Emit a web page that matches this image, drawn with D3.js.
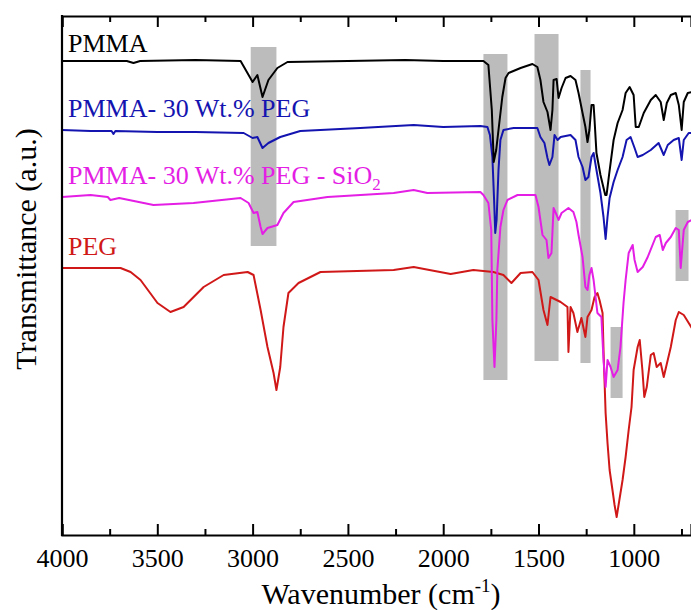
<!DOCTYPE html>
<html>
<head>
<meta charset="utf-8">
<script src="https://cdn.jsdelivr.net/npm/d3@7"></script>
<style>
  body { margin: 0; background: #fff; }
  svg text { font-family: "Liberation Serif", "Times New Roman", serif; }
</style>
</head>
<body>
<script>
// FTIR spectra, [wavenumber (cm-1), transmittance (a.u., offset)]
const pmma = [
  [4000,474],[3800,474],[3660,474],[3625,472],[3590,474],[3300,475],[3063,474],[3027,462],
  [3000,453],[2975,460],[2948,438],[2917,455],[2870,467],[2817,473],[2500,474],[2200,475],
  [2000,474],[1789,474],[1763,470],[1745,425],[1735,373],[1722,385],[1710,405],[1690,438],
  [1673,457],[1657,462],[1594,467],[1532,471],[1506,468],[1490,455],[1474,433],[1453,423],
  [1437,405],[1427,425],[1421,455],[1405,456],[1395,437],[1379,447],[1358,457],[1332,459],
  [1306,455],[1290,442],[1269,422],[1254,408],[1243,393],[1233,405],[1222,430],[1211,430],
  [1206,415],[1196,382],[1175,360],[1150,340],[1143,340],[1130,360],[1106,395],[1085,412],
  [1059,425],[1043,442],[1022,448],[1001,440],[990,408],[974,408],[948,422],[911,435],
  [885,440],[859,433],[843,415],[827,432],[806,440],[780,442],[764,430],[749,405],
  [738,433],[717,442],[696,443]
];
const pmmaPeg = [
  [4000,405],[3850,404],[3740,404],[3730,401],[3720,404],[3500,403],[3300,403],[3047,402],
  [3000,397],[2975,398],[2948,387],[2917,392],[2855,398],[2750,404],[2435,407],[2155,410],
  [2000,408],[1805,409],[1768,408],[1755,400],[1742,378],[1733,335],[1727,302],[1720,315],
  [1710,365],[1700,395],[1684,405],[1631,407],[1506,407],[1490,398],[1469,392],[1453,377],
  [1443,370],[1427,378],[1416,400],[1400,395],[1384,398],[1332,400],[1306,395],[1290,378],
  [1269,368],[1254,355],[1238,358],[1222,378],[1211,382],[1196,365],[1175,342],[1159,318],
  [1148,296],[1138,318],[1127,337],[1106,353],[1085,365],[1059,378],[1038,395],[1017,398],
  [996,387],[980,378],[953,380],[911,385],[870,392],[843,380],[822,390],[791,395],
  [764,397],[749,375],[738,395],[712,402],[696,402]
];
const pmmaPegSiO2 = [
  [4000,338],[3850,340],[3760,338],[3746,335],[3700,337],[3520,330],[3310,332],[3063,337],
  [3021,332],[2995,322],[2975,323],[2958,308],[2948,301],[2922,307],[2870,310],[2838,322],
  [2785,333],[2607,338],[2260,342],[2155,345],[2083,342],[1805,343],[1789,340],[1763,332],
  [1748,305],[1742,215],[1731,168],[1721,215],[1716,265],[1700,308],[1684,325],[1663,335],
  [1610,340],[1516,340],[1500,328],[1479,300],[1458,295],[1448,277],[1432,282],[1421,327],
  [1405,320],[1395,315],[1379,322],[1343,327],[1317,323],[1301,313],[1290,300],[1269,278],
  [1254,248],[1243,245],[1233,260],[1222,267],[1211,255],[1191,222],[1170,218],[1159,175],
  [1148,148],[1138,175],[1122,168],[1106,158],[1085,165],[1070,188],[1054,232],[1043,255],
  [1027,282],[1006,290],[996,275],[980,263],[953,268],[927,278],[885,298],[864,300],
  [848,285],[832,292],[806,298],[780,307],[764,305],[754,267],[738,305],[717,313],[696,315]
];
const peg = [
  [4000,267],[3693,267],[3640,263],[3588,255],[3499,232],[3431,223],[3362,228],[3257,248],
  [3152,260],[3026,263],[2995,260],[2958,225],[2922,188],[2890,162],[2875,145],[2855,168],
  [2838,208],[2812,242],[2759,252],[2644,263],[2260,265],[2155,268],[2100,266],[1961,261],
  [1842,265],[1737,263],[1684,260],[1642,252],[1594,262],[1532,263],[1500,255],[1474,225],
  [1453,210],[1437,238],[1384,233],[1348,228],[1343,183],[1332,228],[1317,222],[1296,203],
  [1275,217],[1254,198],[1243,218],[1222,225],[1206,238],[1191,242],[1180,235],[1164,222],
  [1159,185],[1148,122],[1138,92],[1127,65],[1112,45],[1101,30],[1090,18],[1080,30],
  [1059,55],[1043,78],[1027,105],[1012,128],[1001,165],[980,188],[969,195],[955,165],
  [945,138],[932,148],[911,180],[896,182],[880,168],[859,172],[843,158],[806,188],
  [780,215],[764,223],[738,220],[712,212],[696,207]
];

const seriesNames = ["PEG", "PMMA- 30 Wt.% PEG - SiO", "PMMA- 30 Wt.% PEG", "PMMA"];
const seriesColors = ["#d01818", "#e41ee4", "#1414b0", "#000000"];
const labelAnchors = [[4000, 280], [4000, 351], [4000, 418], [4000, 483]];

// shaded bands: [wn from, wn to, T low, T high]
const bands = [
  [3010, 2875, 289, 488],
  [1789, 1663, 155, 481],
  [1521, 1395, 174, 501],
  [1280, 1227, 172, 465],
  [1122, 1059, 137, 208],
  [781, 713, 254, 325]
];

const majorTicks = [4000, 3500, 3000, 2500, 2000, 1500, 1000];
const minorTicks = [3750, 3250, 2750, 2250, 1750, 1250, 750];

const W = 691, H = 610;
const mLeft = 62, mRight = 691, mTop = 16, mBottom = 535;

const svg = d3.select("body").append("svg")
  .attr("width", W).attr("height", H);

const x = d3.scaleLinear().domain([4000, 700]).range([mLeft, mRight]);
const y = d3.scaleLinear().domain([0, 519]).range([mBottom, mTop]);

svg.append("defs").append("clipPath").attr("id", "plot")
  .append("rect").attr("x", mLeft).attr("y", mTop)
  .attr("width", mRight - mLeft).attr("height", mBottom - mTop);

const g = svg.append("g").attr("clip-path", "url(#plot)");

g.selectAll("rect.band").data(bands).join("rect")
  .attr("class", "band")
  .attr("x", d => x(d[0]))
  .attr("width", d => x(d[1]) - x(d[0]))
  .attr("y", d => y(d[3]))
  .attr("height", d => y(d[2]) - y(d[3]))
  .attr("fill", "#bcbcbc");

const line = d3.line().x(d => x(d[0])).y(d => y(d[1]));
const allSeries = [peg, pmmaPegSiO2, pmmaPeg, pmma];

g.selectAll("path.spec").data(allSeries).join("path")
  .attr("class", "spec")
  .attr("d", line)
  .attr("fill", "none")
  .attr("stroke", (d, i) => seriesColors[i])
  .attr("stroke-width", 2)
  .attr("stroke-linejoin", "round");

// series labels
const labels = svg.append("g");
seriesNames.forEach((name, i) => {
  const t = labels.append("text")
    .attr("x", x(labelAnchors[i][0]) + 6)
    .attr("y", y(labelAnchors[i][1]))
    .attr("font-size", 26)
    .attr("fill", seriesColors[i])
    .text(name);
  if (i === 1) {
    t.append("tspan").attr("font-size", 17).attr("dy", 6).text("2");
  }
});

// axes
const axB = svg.append("g").attr("transform", `translate(0,${mBottom})`)
  .call(d3.axisBottom(x).tickValues(majorTicks).tickSize(-11).tickPadding(14).tickFormat(d3.format("d")));
const axBm = svg.append("g").attr("transform", `translate(0,${mBottom})`)
  .call(d3.axisBottom(x).tickValues(minorTicks).tickSize(-6).tickFormat(""));
const axT = svg.append("g").attr("transform", `translate(0,${mTop})`)
  .call(d3.axisTop(x).tickValues(majorTicks).tickSize(-11).tickFormat(""));
const axTm = svg.append("g").attr("transform", `translate(0,${mTop})`)
  .call(d3.axisTop(x).tickValues(minorTicks).tickSize(-6).tickFormat(""));

[axB, axBm, axT, axTm].forEach(a => {
  a.select(".domain").attr("stroke", "#000").attr("stroke-width", 2.2);
  a.selectAll(".tick line").attr("stroke", "#000").attr("stroke-width", 2);
});
axBm.select(".domain").remove();
axTm.select(".domain").remove();
axB.selectAll(".tick text")
  .attr("font-family", "Liberation Serif, serif")
  .attr("font-size", 26)
  .attr("fill", "#000");

svg.append("line")
  .attr("x1", mLeft).attr("x2", mLeft)
  .attr("y1", mTop - 1).attr("y2", mBottom + 1)
  .attr("stroke", "#000").attr("stroke-width", 2.2);

// axis titles
const xt = svg.append("text")
  .attr("x", 381).attr("y", 604)
  .attr("text-anchor", "middle")
  .attr("font-size", 30)
  .text("Wavenumber (cm");
xt.append("tspan").attr("font-size", 19).attr("dy", -12).text("-1");
xt.append("tspan").attr("dy", 12).text(")");

svg.append("text")
  .attr("transform", "translate(36,249) rotate(-90)")
  .attr("text-anchor", "middle")
  .attr("font-size", 30)
  .text("Transmittance (a.u.)");
</script>
</body>
</html>
